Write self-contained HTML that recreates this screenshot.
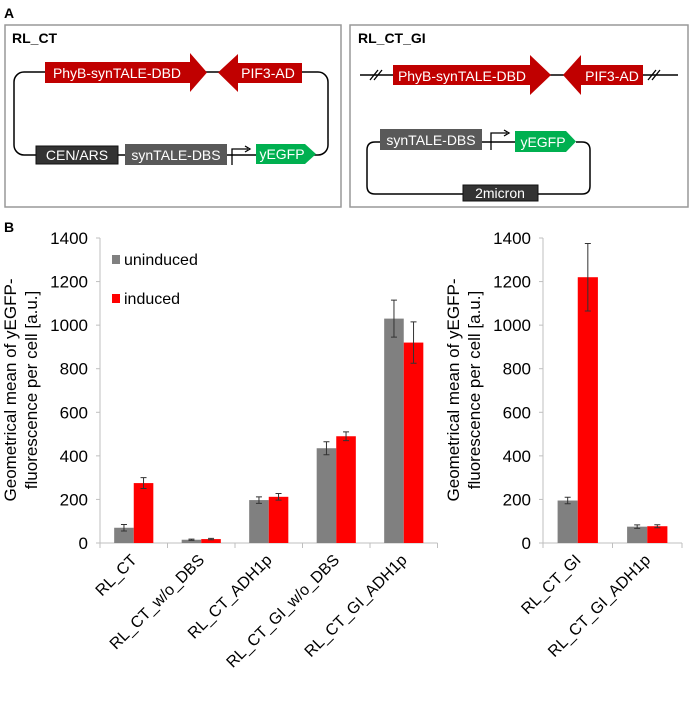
<!DOCTYPE html>
<html><head><meta charset="utf-8"><style>
body{margin:0;background:#fff;width:696px;height:704px;overflow:hidden;font-family:"Liberation Sans",sans-serif}
svg{display:block}
</style></head><body>
<svg id="fig" width="696" height="704" viewBox="0 0 696 704" xmlns="http://www.w3.org/2000/svg" font-family="Liberation Sans, sans-serif">
<text x="4" y="18" font-size="14" font-weight="bold">A</text>
<g>
<rect x="5" y="25" width="336" height="182" fill="none" stroke="#999" stroke-width="1.5"/>
<text x="12" y="43" font-size="14" font-weight="bold">RL_CT</text>
<rect x="14" y="72" width="314" height="83" rx="10" fill="none" stroke="#000" stroke-width="1.5"/>
<polygon points="45,62 190,62 190,53 207,72.5 190,92 190,83 45,83" fill="#c00000"/>
<text x="117" y="78" font-size="14" fill="#fff" text-anchor="middle">PhyB-synTALE-DBD</text>
<polygon points="302,63 238,63 238,54 218,72.5 238,92 238,83 302,83" fill="#c00000"/>
<text x="268" y="78" font-size="14" fill="#fff" text-anchor="middle">PIF3-AD</text>
<rect x="36" y="146" width="82" height="18" fill="#333" stroke="#111"/>
<text x="77" y="160" font-size="14" fill="#fff" text-anchor="middle">CEN/ARS</text>
<rect x="125" y="144" width="102" height="21" fill="#595959"/>
<text x="176" y="160" font-size="14" fill="#fff" text-anchor="middle">synTALE-DBS</text>
<path d="M232,165 V149 H248" fill="none" stroke="#000" stroke-width="1.3"/><path d="M245,146 L250,149 L245,152" fill="none" stroke="#000" stroke-width="1.3"/>
<polygon points="256,144 305,144 316,154 305,164 256,164" fill="#00b050"/>
<text x="282" y="159" font-size="14" fill="#fff" text-anchor="middle">yEGFP</text>
</g>
<g>
<rect x="350" y="25" width="338" height="182" fill="none" stroke="#999" stroke-width="1.5"/>
<text x="358" y="43" font-size="14" font-weight="bold">RL_CT_GI</text>
<line x1="360" y1="75" x2="678" y2="75" stroke="#000" stroke-width="1.5"/>
<path d="M370,80 L378,70 M374,80 L382,70 M648,80 L656,70 M652,80 L660,70" stroke="#000" stroke-width="1.3"/>
<polygon points="393,65 530,65 530,55 551,75 530,95 530,85 393,85" fill="#c00000"/>
<text x="462" y="81" font-size="14" fill="#fff" text-anchor="middle">PhyB-synTALE-DBD</text>
<polygon points="643,65 581,65 581,55 563,75 581,95 581,85 643,85" fill="#c00000"/>
<text x="612" y="81" font-size="14" fill="#fff" text-anchor="middle">PIF3-AD</text>
<path d="M380,142 H375 Q367,142 367,150 V186 Q367,194 375,194 H582 Q590,194 590,186 V150 Q590,142 582,142 H576" fill="none" stroke="#000" stroke-width="1.5"/>
<line x1="482" y1="142" x2="515" y2="142" stroke="#000" stroke-width="1.5"/>
<rect x="380" y="129" width="102" height="21" fill="#595959"/>
<text x="431" y="145" font-size="14" fill="#fff" text-anchor="middle">synTALE-DBS</text>
<path d="M491,150 V133 H507" fill="none" stroke="#000" stroke-width="1.3"/><path d="M504,130 L509,133 L504,136" fill="none" stroke="#000" stroke-width="1.3"/>
<polygon points="515,131 566,131 576,141.5 566,152 515,152" fill="#00b050"/>
<text x="543" y="147" font-size="14" fill="#fff" text-anchor="middle">yEGFP</text>
<rect x="463" y="185" width="75" height="16" fill="#333" stroke="#111"/>
<text x="500" y="198" font-size="14" fill="#fff" text-anchor="middle">2micron</text>
</g>
<text x="4" y="232" font-size="14" font-weight="bold">B</text>
<g id="left"></g>
<g id="right"></g>
<g>
<rect x="112" y="255" width="8" height="9" fill="#808080"/>
<text x="124" y="265" font-size="16">uninduced</text>
<rect x="112" y="294" width="8" height="9" fill="#ff0000"/>
<text x="124" y="304" font-size="16">induced</text>
</g>
</svg>
<script>
const leftCategories=["RL_CT","RL_CT_w/o_DBS","RL_CT_ADH1p","RL_CT_GI_w/o_DBS","RL_CT_GI_ADH1p"];
const leftUninduced=[70,15,197,435,1030];
const leftUninducedErr=[15,3,15,30,85];
const leftInduced=[275,18,212,490,920];
const leftInducedErr=[25,3,15,20,95];
const rightCategories=["RL_CT_GI","RL_CT_GI_ADH1p"];
const rightUninduced=[195,75];
const rightUninducedErr=[15,8];
const rightInduced=[1220,77];
const rightInducedErr=[155,7];
const yTicks=[0,200,400,600,800,1000,1200,1400];
const NS="http://www.w3.org/2000/svg";
function mk(t,a,p){const e=document.createElementNS(NS,t);for(const k in a)e.setAttribute(k,a[k]);p.appendChild(e);return e;}
function draw(g,x0,gw,cats,u,ue,ind,ie,prefix){
  const y0=543,yTop=238,ymax=1400;
  const y=v=>y0-(v/ymax)*(y0-yTop);
  const xEnd=x0+gw*cats.length;
  const ax=mk('line',{x1:x0,y1:yTop,x2:x0,y2:y0,stroke:'#bfbfbf','stroke-width':1},g);
  
  
  const bx=mk('line',{x1:x0-4,y1:y0,x2:xEnd,y2:y0,stroke:'#bfbfbf','stroke-width':1},g);
  
  
  yTicks.forEach(t=>{
    mk('line',{x1:x0-4,y1:y(t),x2:x0,y2:y(t),stroke:'#bfbfbf'},g);
    const tx=mk('text',{x:x0-12,y:y(t)+6,'font-size':17,'text-anchor':'end',fill:'#000'},g);
    tx.textContent=t;
    
    
  });
  for(let i=0;i<=cats.length;i++) mk('line',{x1:x0+gw*i,y1:y0,x2:x0+gw*i,y2:y0+5,stroke:'#bfbfbf'},g);
  cats.forEach((c,i)=>{
    const cx=x0+gw*(i+0.5);
    const bw=gw*0.29;
    [[u,ue,'#808080',cx-bw,'uninduced'],[ind,ie,'#ff0000',cx,'induced']].forEach(([vals,errs,col,bxp,nm])=>{
      const v=vals[i];
      const r=mk('rect',{x:bxp,y:y(v),width:bw,height:y0-y(v),fill:col},g);
      
      
      const ex=bxp+bw/2,e=errs[i];
      const eb=mk('path',{d:`M${ex},${y(v+e)}V${y(v-e)}M${ex-3},${y(v+e)}h6M${ex-3},${y(v-e)}h6`,stroke:'#333','stroke-width':1,fill:'none'},g);
      
      
    });
    const lb=mk('text',{x:cx+4,y:y0+18,'font-size':16,'text-anchor':'end',transform:`rotate(-45 ${cx+4} ${y0+18})`},g);
    lb.textContent=c;
    
    
  });
  const tx1=x0-84,tx2=x0-63,cy=390;
  const t1=mk('text',{x:tx1,y:cy,'font-size':17,'text-anchor':'middle',transform:`rotate(-90 ${tx1} ${cy})`},g);
  t1.textContent='Geometrical mean of yEGFP-';
  
  
  const t2=mk('text',{x:tx2,y:cy,'font-size':17,'text-anchor':'middle',transform:`rotate(-90 ${tx2} ${cy})`},g);
  t2.textContent='fluorescence per cell [a.u.]';
  
  
}
draw(document.getElementById('left'),100,67.5,leftCategories,leftUninduced,leftUninducedErr,leftInduced,leftInducedErr,'left');
draw(document.getElementById('right'),543,69.5,rightCategories,rightUninduced,rightUninducedErr,rightInduced,rightInducedErr,'right');
</script>
</body></html>
